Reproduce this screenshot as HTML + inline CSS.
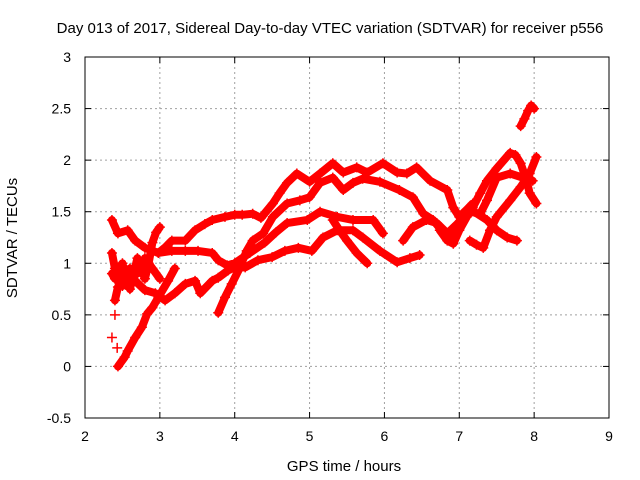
<!DOCTYPE html>
<html><head><meta charset="utf-8"><style>
body{margin:0;background:#fff;}
svg{display:block;font-family:"Liberation Sans",sans-serif;}
</style></head><body>
<svg id="chart" width="640" height="480" viewBox="0 0 640 480">
<rect x="0" y="0" width="640" height="480" fill="#fff"/>
<text x="330" y="33" font-size="15" text-anchor="middle" fill="#000">Day 013 of 2017, Sidereal Day-to-day VTEC variation (SDTVAR) for receiver p556</text>
<g id="grid"></g>
<g id="ticks"></g>
<g id="marks"></g>
<rect x="85" y="57" width="524" height="361" fill="none" stroke="#000" stroke-width="1"/>
<text x="344" y="471" font-size="15" text-anchor="middle">GPS time / hours</text>
<text x="17" y="238" font-size="15" text-anchor="middle" transform="rotate(-90 17 238)">SDTVAR / TECUs</text>
</svg>
<script>
const xTicks=[2,3,4,5,6,7,8,9];
const yTicks=[-0.5,0,0.5,1,1.5,2,2.5,3];
const yTickLabels=["-0.5","0","0.5","1","1.5","2","2.5","3"];
const trackA=[[2.36,1.42],[2.44,1.29],[2.57,1.32],[2.67,1.22],[2.8,1.15],[2.98,1.1],[3.08,1.16],[3.16,1.22],[3.34,1.22],[3.47,1.32],[3.6,1.38],[3.7,1.42],[3.87,1.45],[4.0,1.47],[4.1,1.47],[4.24,1.48],[4.35,1.44],[4.51,1.58],[4.6,1.68],[4.7,1.78],[4.83,1.87],[5.0,1.79],[5.14,1.87],[5.31,1.97],[5.45,1.88],[5.63,1.93],[5.77,1.88],[5.98,1.97],[6.17,1.88],[6.3,1.87],[6.43,1.93],[6.61,1.8],[6.84,1.71],[6.92,1.54],[7.0,1.45],[7.1,1.52],[7.18,1.58]];
const trackB=[[3.78,0.52],[3.87,0.67],[3.96,0.8],[4.05,0.93],[4.16,1.12],[4.24,1.22],[4.38,1.29],[4.51,1.45],[4.7,1.58],[4.87,1.61],[5.0,1.64],[5.14,1.78],[5.31,1.83],[5.45,1.71],[5.58,1.78],[5.71,1.82],[5.94,1.79],[6.2,1.71],[6.38,1.64],[6.52,1.48],[6.65,1.42],[6.84,1.25],[6.97,1.29],[7.1,1.48]];
const trackC=[[2.98,1.1],[3.16,1.12],[3.34,1.12],[3.51,1.12],[3.7,1.1],[3.78,1.03],[3.9,0.98],[4.0,1.0],[4.2,1.1],[4.4,1.2],[4.55,1.3],[4.7,1.39],[4.97,1.42],[5.14,1.5],[5.37,1.45],[5.58,1.42],[5.85,1.42],[5.98,1.29]];
const trackD=[[2.4,0.64],[2.44,0.77],[2.53,0.9],[2.67,0.83],[2.8,0.74],[2.94,0.71],[3.07,0.64],[3.2,0.71],[3.34,0.8],[3.47,0.83],[3.54,0.71],[3.7,0.83],[3.78,0.86],[3.91,0.93],[4.0,0.96],[4.14,0.96],[4.31,1.03],[4.5,1.06],[4.67,1.12],[4.85,1.15],[5.03,1.12],[5.18,1.25],[5.37,1.32],[5.58,1.32],[5.71,1.25],[5.94,1.12],[6.17,1.01],[6.34,1.05],[6.47,1.08]];
const trackE=[[5.31,1.42],[5.4,1.32],[5.5,1.22],[5.63,1.1],[5.77,1.0]];
const trackF=[[6.25,1.22],[6.38,1.35],[6.56,1.42],[6.7,1.39],[6.84,1.29],[6.97,1.38],[7.1,1.48],[7.2,1.5],[7.37,1.42],[7.5,1.32],[7.64,1.25],[7.77,1.22]];
const trackG=[[2.44,0.0],[2.53,0.09],[2.57,0.15],[2.67,0.28],[2.76,0.38],[2.83,0.51],[2.9,0.57],[2.98,0.67],[3.11,0.83],[3.2,0.95]];
const trackH=[[2.36,0.9],[2.4,0.85],[2.45,0.95],[2.5,1.0],[2.55,0.85],[2.6,0.75],[2.65,0.9],[2.7,1.05],[2.75,0.95],[2.8,0.85],[2.85,1.0],[2.9,1.2],[2.95,1.3],[3.0,1.35]];
const trackI=[[2.36,1.1],[2.4,0.95],[2.44,0.83],[2.5,0.78],[2.6,0.95],[2.7,0.9],[2.8,1.05],[2.9,0.95],[3.0,0.85]];
const trackJ=[[2.36,0.28],[2.43,0.18],[2.4,0.5]];
const trackK=[[6.74,1.32],[6.84,1.22],[6.92,1.19],[7.0,1.32],[7.1,1.45],[7.18,1.54],[7.28,1.68],[7.37,1.8],[7.5,1.92],[7.68,2.07],[7.75,2.05],[7.82,1.97],[7.9,1.8],[7.94,1.68],[8.03,1.58]];
const trackL=[[7.28,1.48],[7.37,1.61],[7.5,1.83],[7.68,1.87],[7.85,1.83],[7.98,1.8]];
const trackM=[[7.14,1.22],[7.23,1.18],[7.32,1.15],[7.41,1.32],[7.5,1.45],[7.68,1.61],[7.82,1.74],[7.94,1.87],[8.03,2.03]];
const trackN=[[7.82,2.33],[7.87,2.4],[7.92,2.48],[7.96,2.53],[8.0,2.5]];
const tracks=[trackA,trackB,trackC,trackD,trackE,trackF,trackG,trackH,trackI,trackJ,trackK,trackL,trackM,trackN];
const X0=85,X1=609,Y0=418,Y1=57,XMIN=2,XMAX=9,YMIN=-0.5,YMAX=3;
function sx(h){return X0+(h-XMIN)/(XMAX-XMIN)*(X1-X0);}
function sy(v){return Y0-(v-YMIN)/(YMAX-YMIN)*(Y0-Y1);}
const NS="http://www.w3.org/2000/svg";
function mk(t,a,p){const e=document.createElementNS(NS,t);for(const k in a)e.setAttribute(k,a[k]);p.appendChild(e);return e;}
const grid=document.getElementById('grid'),ticks=document.getElementById('ticks'),marks=document.getElementById('marks');
xTicks.forEach((t,i)=>{const x=sx(t);
 if(i>0&&i<xTicks.length-1){const g=mk('line',{x1:x,y1:Y1,x2:x,y2:Y0,stroke:'#a0a0a0','stroke-dasharray':'2,3'},grid);
 
 }
 mk('line',{x1:x,y1:Y0,x2:x,y2:Y0-6,stroke:'#000'},ticks);
 mk('line',{x1:x,y1:Y1,x2:x,y2:Y1+6,stroke:'#000'},ticks);
 const l=mk('text',{x:x,y:Y0+23,'font-size':14,'text-anchor':'middle'},ticks);l.textContent=String(t);
 
 });
yTicks.forEach((t,i)=>{const y=sy(t);
 if(i>0&&i<yTicks.length-1){const g=mk('line',{x1:X0,y1:y,x2:X1,y2:y,stroke:'#a0a0a0','stroke-dasharray':'2,3'},grid);
 
 }
 mk('line',{x1:X0,y1:y,x2:X0+6,y2:y,stroke:'#000'},ticks);
 mk('line',{x1:X1,y1:y,x2:X1-6,y2:y,stroke:'#000'},ticks);
 const l=mk('text',{x:X0-14,y:y+5,'font-size':14,'text-anchor':'end'},ticks);l.textContent=yTickLabels[i];
 
 });
tracks.forEach((tr,ti)=>{
 const g=mk('g',{},marks);
 
 
 if(ti!==9){const pl=mk('polyline',{points:tr.map(p=>sx(p[0])+','+sy(p[1])).join(' '),fill:'none',stroke:'#ff0000','stroke-width':8,'stroke-linejoin':'round','stroke-linecap':'round'},g);
 
 }
 tr.forEach(p=>{const x=sx(p[0]),y=sy(p[1]);
  const m=mk('path',{d:`M${x-5},${y}H${x+5}M${x},${y-5}V${y+5}`,stroke:'#ff0000','stroke-width':1.5},g);
  
  });
});
</script>
</body></html>
